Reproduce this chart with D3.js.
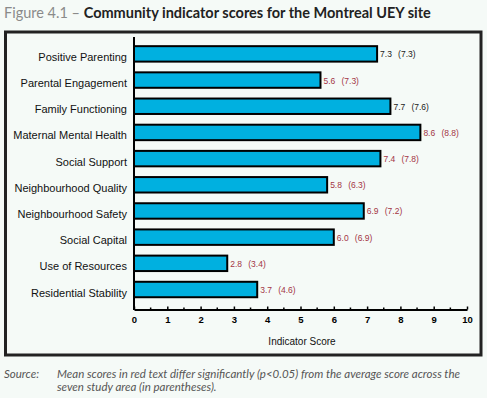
<!DOCTYPE html>
<html>
<head>
<meta charset="utf-8">
<script src="https://cdn.jsdelivr.net/npm/d3@7"></script>
<style>
  body { margin: 0; background: #f5faf7; }
  svg { display: block; }
</style>
</head>
<body>
<div id="chart"></div>
<script>
// indicators, top to bottom
var indicators = ["Positive Parenting", "Parental Engagement", "Family Functioning",
  "Maternal Mental Health", "Social Support", "Neighbourhood Quality",
  "Neighbourhood Safety", "Social Capital", "Use of Resources", "Residential Stability"];
var siteScores = [7.3, 5.6, 7.7, 8.6, 7.4, 5.8, 6.9, 6.0, 2.8, 3.7];
var averageScores = [7.3, 7.3, 7.6, 8.8, 7.8, 6.3, 7.2, 6.9, 3.4, 4.6];
var significant = [false, true, false, true, true, true, true, true, true, true];
var xTicks = [0, 1, 2, 3, 4, 5, 6, 7, 8, 9, 10];

var data = indicators.map(function(d, i) {
  return {name: d, value: siteScores[i], avg: averageScores[i], sig: significant[i]};
});

var W = 487, H = 398;
var svg = d3.select("#chart").append("svg")
  .attr("width", W).attr("height", H);

// title
var title = svg.append("text")
  .attr("x", 4).attr("y", 18)
  .style("font-family", "Lato, 'Open Sans', sans-serif")
  .style("font-size", "14.5px");
title.append("tspan").attr("fill", "#8a8a8a").text("Figure 4.1 – ");
title.append("tspan").attr("fill", "#222").style("font-weight", "bold").text("Community indicator scores for the Montreal UEY site");

// frame
svg.append("rect")
  .attr("x", 5.5).attr("y", 32)
  .attr("width", 475.5).attr("height", 323)
  .attr("fill", "none")
  .attr("stroke", "#222")
  .attr("stroke-width", 3);

var x = d3.scaleLinear().domain([0, 10]).range([134, 467]);
var y = d3.scaleBand().domain(indicators).range([40.8, 302.6]).paddingInner(0.41).paddingOuter(0.205);

// bars
svg.append("g").selectAll("rect")
  .data(data).enter().append("rect")
  .attr("x", x(0))
  .attr("y", function(d) { return y(d.name); })
  .attr("width", function(d) { return x(d.value) - x(0); })
  .attr("height", y.bandwidth())
  .attr("fill", "#00b0e0")
  .attr("stroke", "#000")
  .attr("stroke-width", 2);

// category labels
svg.append("g").selectAll("text")
  .data(data).enter().append("text")
  .attr("x", 127)
  .attr("y", function(d) { return y(d.name) + y.bandwidth() / 2 + 7; })
  .attr("text-anchor", "end")
  .style("font-family", "'Liberation Sans', Arial, sans-serif")
  .style("font-size", "11px")
  .attr("fill", "#111")
  .text(function(d) { return d.name; });

// value labels
var vals = svg.append("g").selectAll("text")
  .data(data).enter().append("text")
  .attr("y", function(d) { return y(d.name) + y.bandwidth() / 2 + 3.5; })
  .style("font-family", "'Liberation Sans', Arial, sans-serif")
  .style("font-size", "8.5px")
  .attr("fill", function(d) { return d.sig ? "#a33545" : "#222"; });
vals.append("tspan")
  .attr("x", function(d) { return x(d.value) + 3; })
  .text(function(d) { return d.value.toFixed(1); });
vals.append("tspan")
  .attr("x", function(d) { return x(d.value) + 21; })
  .text(function(d) { return "(" + d.avg.toFixed(1) + ")"; });

// y axis line
svg.append("line")
  .attr("x1", x(0)).attr("x2", x(0))
  .attr("y1", 37).attr("y2", 310)
  .attr("stroke", "#000").attr("stroke-width", 2);

// x axis with inward ticks
var axisY = 309.5;
var xAxis = svg.append("g")
  .attr("transform", "translate(0," + axisY + ")")
  .call(d3.axisBottom(x).tickValues(xTicks).tickSizeInner(-3).tickSizeOuter(0).tickPadding(7));
xAxis.select(".domain").attr("stroke", "#000").attr("stroke-width", 2);
xAxis.selectAll(".tick line").attr("stroke", "#000").attr("stroke-width", 1.5);
xAxis.selectAll(".tick text")
  .style("font-family", "'Liberation Sans', Arial, sans-serif")
  .style("font-size", "9.5px")
  .style("font-weight", "bold")
  .attr("fill", "#000");

// minor ticks
svg.append("g").selectAll("line")
  .data(d3.range(0.5, 10, 1)).enter().append("line")
  .attr("x1", function(d) { return x(d); })
  .attr("x2", function(d) { return x(d); })
  .attr("y1", axisY).attr("y2", axisY - 2)
  .attr("stroke", "#000").attr("stroke-width", 1.5);

svg.append("text")
  .attr("x", 302).attr("y", 345)
  .attr("text-anchor", "middle")
  .style("font-family", "'Liberation Sans', Arial, sans-serif")
  .style("font-size", "10px")
  .attr("fill", "#111")
  .text("Indicator Score");

// source note
var note = svg.append("g")
  .style("font-family", "Lato, 'Open Sans', sans-serif")
  .style("font-size", "11.5px")
  .style("font-style", "italic")
  .attr("fill", "#555");
note.append("text").attr("x", 4).attr("y", 378).text("Source:");
note.append("text").attr("x", 57).attr("y", 378)
  .text("Mean scores in red text differ significantly (p<0.05) from the average score across the");
note.append("text").attr("x", 57).attr("y", 391)
  .text("seven study area (in parentheses).");
</script>
</body>
</html>
